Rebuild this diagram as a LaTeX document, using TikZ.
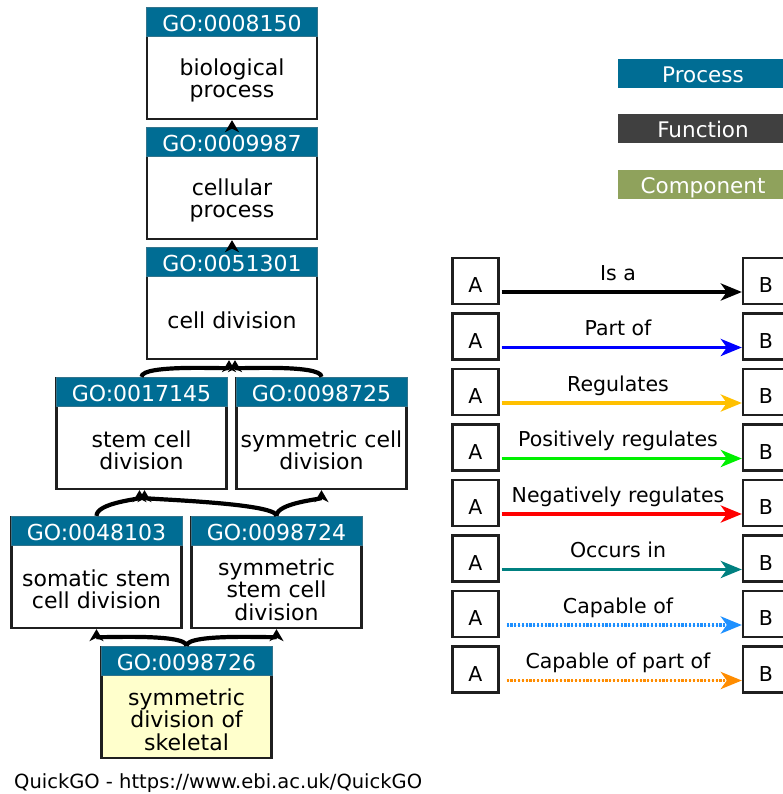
\documentclass[tikz,border=0pt]{standalone}
\usepackage{fontspec}
\setmainfont{DejaVu Sans}
\usetikzlibrary{arrows.meta}
\definecolor{procblue}{RGB}{0,109,148}
\definecolor{funcgray}{RGB}{64,64,64}
\definecolor{compgreen}{RGB}{143,162,92}
\definecolor{termyellow}{RGB}{255,255,204}
\definecolor{regyellow}{RGB}{255,192,0}
\definecolor{posgreen}{RGB}{0,240,0}
\definecolor{occteal}{RGB}{0,128,128}
\definecolor{capblue}{RGB}{30,144,255}
\definecolor{caporange}{RGB}{255,140,0}
\begin{document}
\begin{tikzpicture}[x=1pt,y=-1pt,
  gobox/.style={draw=black!88, line width=2.3pt, minimum width=170pt, minimum height=111pt, inner sep=0pt, fill=white},
  gohead/.style={fill=procblue, draw=procblue!60!gray, line width=0.8pt, minimum width=171pt, minimum height=29pt, inner sep=0pt, anchor=north, text=white, text height=19pt, text depth=0pt, font=\fontsize{22}{22}\selectfont},
  gotext/.style={align=center, inner sep=0pt, font=\fontsize{22}{22.5}\selectfont},
  edge/.style={line width=4.2pt, -{Stealth[length=12pt,width=14pt,inset=3.5pt]}},
  legcol/.style={minimum width=170pt, minimum height=29pt, inner sep=0pt, text=white, text height=18pt, text depth=0pt, font=\fontsize{21.5}{22}\selectfont},
  abox/.style={draw=black!88, line width=2.3pt, minimum width=46pt, minimum height=46pt, inner sep=0pt, text height=23pt, text depth=0pt, font=\fontsize{20.5}{22}\selectfont},
  lbl/.style={anchor=base, inner sep=0pt, font=\fontsize{20.5}{22}\selectfont},
  rel/.style={line width=3.6pt, -{Stealth[length=21pt,width=17pt,inset=6pt]}},
  reldot/.style={line width=3.6pt, dash pattern=on 2.2pt off 1.6pt, -{Stealth[length=21pt,width=17pt,inset=6pt]}}
]
\useasboundingbox (0,0) rectangle (783,794);

% GO term boxes
\node[gobox] (n1) at (232,63.5) {};
\node[gohead] (n1h) at (n1.north) {GO:0008150};
\node[gotext] (n1t) at ([yshift=-17pt]n1.center) {biological\\process};

\node[gobox] (n2) at (232,183.5) {};
\node[gohead] (n2h) at (n2.north) {GO:0009987};
\node[gotext] (n2t) at ([yshift=-17pt]n2.center) {cellular\\process};

\node[gobox] (n3) at (232,303.5) {};
\node[gohead] (n3h) at (n3.north) {GO:0051301};
\node[gotext] (n3t) at ([yshift=-17pt]n3.center) {cell division};

\node[gobox] (n4) at (141.5,433.5) {};
\node[gohead] (n4h) at (n4.north) {GO:0017145};
\node[gotext] (n4t) at ([yshift=-17pt]n4.center) {stem cell\\division};

\node[gobox] (n5) at (321.5,433.5) {};
\node[gohead] (n5h) at (n5.north) {GO:0098725};
\node[gotext] (n5t) at ([yshift=-17pt]n5.center) {symmetric cell\\division};

\node[gobox] (n6) at (96.5,572.5) {};
\node[gohead] (n6h) at (n6.north) {GO:0048103};
\node[gotext] (n6t) at ([yshift=-17pt]n6.center) {somatic stem\\cell division};

\node[gobox] (n7) at (276.5,572.5) {};
\node[gohead] (n7h) at (n7.north) {GO:0098724};
\node[gotext] (n7t) at ([yshift=-17pt]n7.center) {symmetric\\stem cell\\division};

\node[gobox, fill=termyellow] (n8) at (186.5,702.5) {};
\node[gohead] (n8h) at (n8.north) {GO:0098726};
\node[gotext] (n8t) at ([yshift=-17pt]n8.center) {symmetric\\division of\\skeletal};

% edges
\draw[edge] (n2.north) -- (n1.south);
\draw[edge] (n3.north) -- (n2.south);
\draw[edge] (n4.north) .. controls +(0,-13) and +(0,9) .. ([xshift=-3pt]n3.south);
\draw[edge] (n5.north) .. controls +(0,-13) and +(0,9) .. ([xshift=3pt]n3.south);
\draw[edge] (n6.north) .. controls +(0,-13) and +(0,9) .. ([xshift=-2pt]n4.south);
\draw[edge] (n7.north) .. controls +(0,-13) and +(0,9) .. ([xshift=3pt]n4.south);
\draw[edge] (n7.north) .. controls +(0,-13) and +(0,9) .. (n5.south);
\draw[edge] (n8.north) .. controls +(0,-13) and +(0,9) .. (n6.south);
\draw[edge] (n8.north) .. controls +(0,-13) and +(0,9) .. (n7.south);

% aspect legend
\node[legcol, fill=procblue] (lp) at (703,73.5) {Process};
\node[legcol, fill=funcgray] (lf) at (703,128.5) {Function};
\node[legcol, fill=compgreen] (lc) at (703,184.5) {Component};

% relation legend
\foreach \i/\t/\lab/\col/\sty/\gap in {
  1/258/Is a/black/rel/2,
  2/313.5/Part of/blue/rel/2,
  3/369/Regulates/regyellow/rel/2,
  4/424.5/Positively regulates/posgreen/rel/2,
  5/480/Negatively regulates/red/rel/2,
  6/535.5/Occurs in/occteal/rel/2,
  7/591/Capable of/capblue/reldot/7,
  8/646.5/Capable of part of/caporange/reldot/7}{
  \node[abox] (a\i) at (475.5,\t+23) {A};
  \node[abox] (b\i) at (766,\t+23) {B};
  \node[lbl] (l\i) at (618,\t+22) {\lab};
  \draw[\sty, draw=\col, fill=\col] ([yshift=-11pt,xshift=\gap pt]a\i.east) -- ([yshift=-11pt]b\i.west);
}

\node[anchor=base west, inner sep=0pt, font=\fontsize{19.5}{22}\selectfont] (foot) at (14,788) {QuickGO - https://www.ebi.ac.uk/QuickGO};
\end{tikzpicture}
\end{document}
